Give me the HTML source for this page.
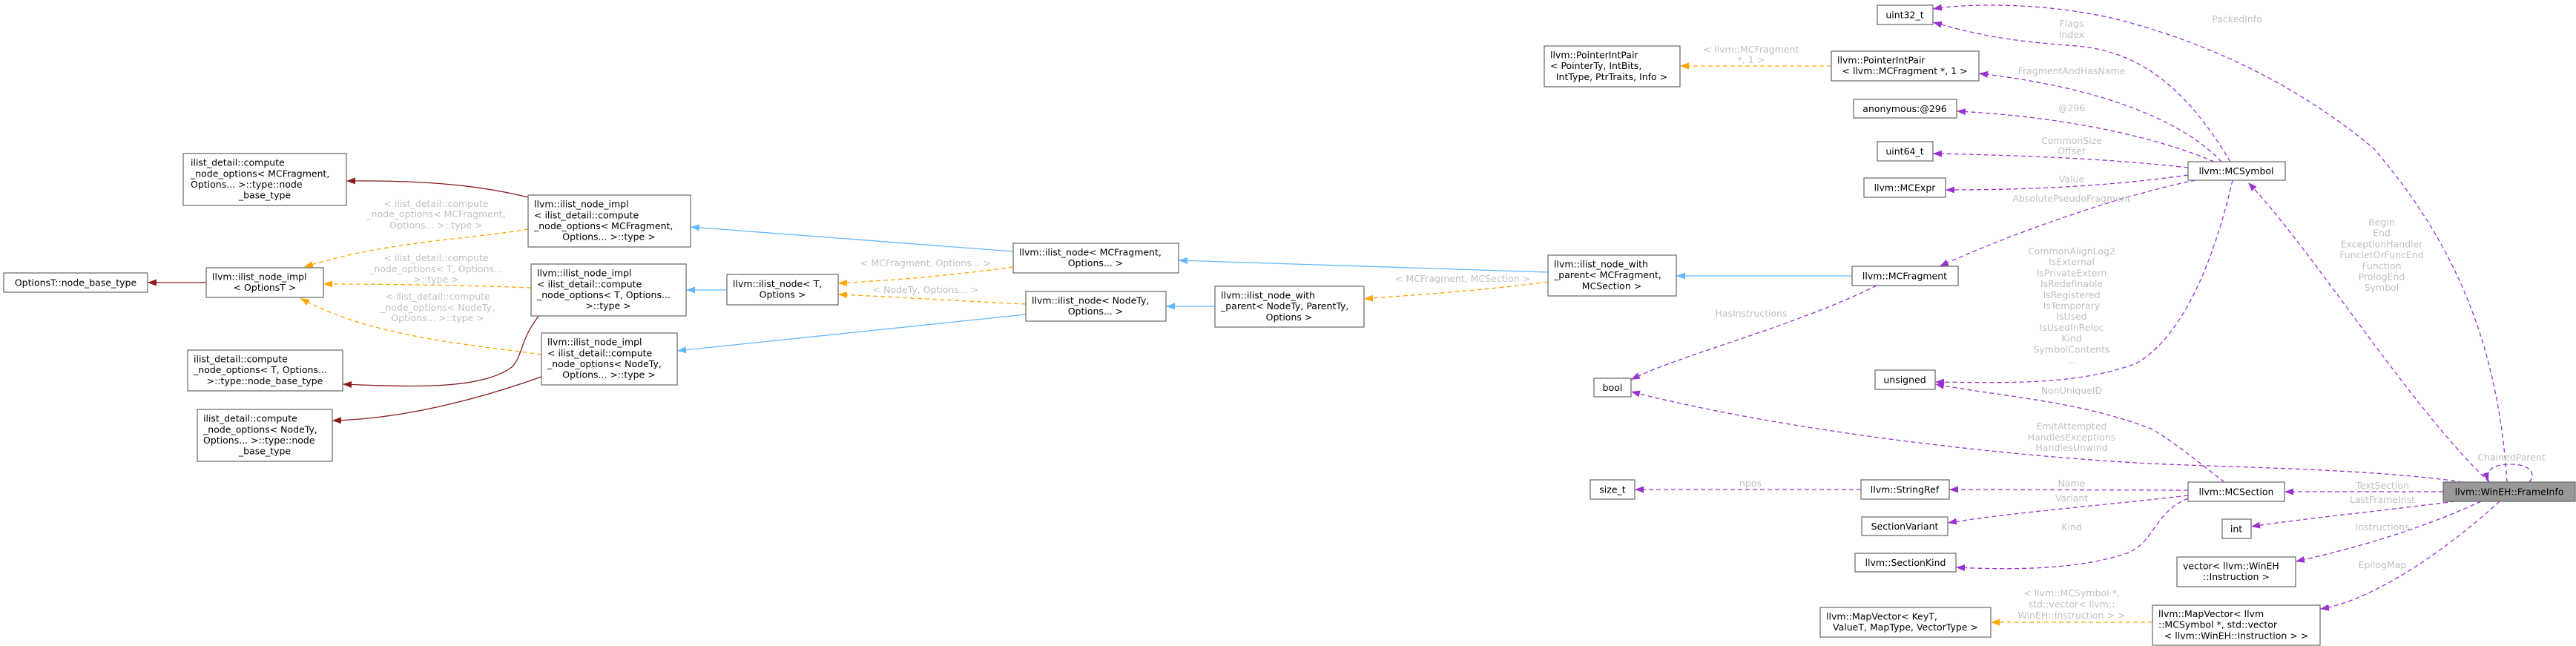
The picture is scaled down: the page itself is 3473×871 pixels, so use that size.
<!DOCTYPE html>
<html><head><meta charset="utf-8">
<style>
html,body{margin:0;padding:0;background:#fff;}
svg{display:block;font-family:"DejaVu Sans","Liberation Sans",sans-serif;}
.n{fill:#fff;stroke:#666;stroke-width:1.2;}
.t{font-size:12.5px;fill:#000;}
.l{font-size:12.5px;fill:#c0c0c0;text-anchor:middle;}
.c{text-anchor:middle;}
.p{fill:none;stroke:#9a32cd;stroke-width:1.3;stroke-dasharray:6,4;}
.o{fill:none;stroke:#ffa500;stroke-width:1.3;stroke-dasharray:6,4;}
.b{fill:none;stroke:#63b8ff;stroke-width:1.3;}
.r{fill:none;stroke:#8b1a1a;stroke-width:1.3;}
</style></head><body>
<svg width="3473" height="871" viewBox="0 0 3473 871" xmlns="http://www.w3.org/2000/svg">
<defs>
<marker id="mp" markerUnits="userSpaceOnUse" markerWidth="12" markerHeight="9" refX="12" refY="4.5" orient="auto"><path d="M0,0 L12,4.5 L0,9 z" fill="#9a32cd"/></marker>
<marker id="mo" markerUnits="userSpaceOnUse" markerWidth="12" markerHeight="9" refX="12" refY="4.5" orient="auto"><path d="M0,0 L12,4.5 L0,9 z" fill="#ffa500"/></marker>
<marker id="mb" markerUnits="userSpaceOnUse" markerWidth="12" markerHeight="9" refX="12" refY="4.5" orient="auto"><path d="M0,0 L12,4.5 L0,9 z" fill="#63b8ff"/></marker>
<marker id="mr" markerUnits="userSpaceOnUse" markerWidth="12" markerHeight="9" refX="12" refY="4.5" orient="auto"><path d="M0,0 L12,4.5 L0,9 z" fill="#8b1a1a"/></marker>
</defs>

<!-- edges: dark red -->
<path class="r" marker-end="url(#mr)" d="M278,381 L199,381"/>
<path class="r" marker-end="url(#mr)" d="M712,266 C640,248 560,243 467,244"/>
<path class="r" marker-end="url(#mr)" d="M727,425 C700,460 705,480 690,495 C650,525 560,522 462,518"/>
<path class="r" marker-end="url(#mr)" d="M730,508 C640,540 540,565 448,567"/>

<!-- orange -->
<path class="o" marker-end="url(#mo)" d="M712,309 C640,322 520,325 410,360"/>
<path class="o" marker-end="url(#mo)" d="M716,388 C640,385 540,383 436,383"/>
<path class="o" marker-end="url(#mo)" d="M730,478 C640,465 500,455 405,402"/>
<path class="o" marker-end="url(#mo)" d="M1366,360 C1280,372 1200,378 1130,382"/>
<path class="o" marker-end="url(#mo)" d="M1383,410 C1280,405 1200,400 1130,397"/>
<path class="o" marker-end="url(#mo)" d="M2087,380 C2000,392 1900,398 1839,403"/>
<path class="o" marker-end="url(#mo)" d="M2469,89 L2265,89"/>
<path class="o" marker-end="url(#mo)" d="M2902,839 L2684,839"/>

<!-- blue -->
<path class="b" marker-end="url(#mb)" d="M1366,339 L931,306"/>
<path class="b" marker-end="url(#mb)" d="M980,391 L925,391"/>
<path class="b" marker-end="url(#mb)" d="M1383,424 L913,473"/>
<path class="b" marker-end="url(#mb)" d="M1638,413 L1572,413"/>
<path class="b" marker-end="url(#mb)" d="M2087,367 L1589,351"/>
<path class="b" marker-end="url(#mb)" d="M2497,372 L2260,372"/>

<!-- purple -->
<path class="p" marker-end="url(#mp)" d="M3007,218 C2960,140 2900,70 2800,62 C2700,55 2660,45 2606,30"/>
<path class="p" marker-end="url(#mp)" d="M2995,218 C2950,170 2850,120 2668,99"/>
<path class="p" marker-end="url(#mp)" d="M2985,218 C2920,190 2800,158 2638,150"/>
<path class="p" marker-end="url(#mp)" d="M2950,226 C2850,215 2750,210 2606,207"/>
<path class="p" marker-end="url(#mp)" d="M2950,236 C2850,250 2750,256 2623,256"/>
<path class="p" marker-end="url(#mp)" d="M2960,243 C2850,265 2700,320 2615,359"/>
<path class="p" marker-end="url(#mp)" d="M3010,243 C2990,330 2950,450 2880,490 C2800,520 2700,516 2609,515"/>
<path class="p" marker-end="url(#mp)" d="M2530,385 C2420,440 2260,480 2199,512"/>
<path class="p" marker-end="url(#mp)" d="M2999,650 C2960,620 2930,595 2900,578 C2800,540 2700,535 2609,518"/>
<path class="p" marker-end="url(#mp)" d="M2950,661 L2628,660"/>
<path class="p" marker-end="url(#mp)" d="M2950,668 C2850,680 2720,690 2626,705"/>
<path class="p" marker-end="url(#mp)" d="M2950,672 C2905,690 2905,730 2870,745 C2800,770 2700,768 2637,765"/>
<path class="p" marker-end="url(#mp)" d="M2509,660 L2204,660"/>
<path class="p" marker-end="url(#mp)" d="M3380,650 C3370,500 3330,350 3200,200 C3080,100 2950,50 2850,25 C2750,2 2650,5 2606,12"/>
<path class="p" marker-end="url(#mp)" d="M3356,650 C3250,550 3120,340 3031,246"/>
<path class="p" marker-end="url(#mp)" d="M3320,650 C3200,632 3000,630 2900,625 C2700,615 2400,580 2199,528"/>
<path class="p" marker-end="url(#mp)" d="M3294,663 L3080,663"/>
<path class="p" marker-end="url(#mp)" d="M3310,676 C3200,690 3100,700 3035,710"/>
<path class="p" marker-end="url(#mp)" d="M3345,676 C3250,720 3150,745 3095,757"/>
<path class="p" marker-end="url(#mp)" d="M3370,676 C3300,740 3200,810 3128,821"/>
<path class="p" marker-end="url(#mp)" d="M3410,650 C3420,638 3410,626 3386,626 C3360,626 3350,634 3355,649"/>

<!-- edge labels -->
<text class="l" x="588" y="279">&lt; ilist_detail::compute</text>
<text class="l" x="588" y="293">_node_options&lt; MCFragment,</text>
<text class="l" x="588" y="308">Options... &gt;::type &gt;</text>
<text class="l" x="588" y="352">&lt; ilist_detail::compute</text>
<text class="l" x="588" y="367">_node_options&lt; T, Options...</text>
<text class="l" x="588" y="381">&gt;::type &gt;</text>
<text class="l" x="590" y="404">&lt; ilist_detail::compute</text>
<text class="l" x="590" y="419">_node_options&lt; NodeTy,</text>
<text class="l" x="590" y="433">Options... &gt;::type &gt;</text>
<text class="l" x="1248" y="359">&lt; MCFragment, Options... &gt;</text>
<text class="l" x="1248" y="395">&lt; NodeTy, Options... &gt;</text>
<text class="l" x="1972" y="380">&lt; MCFragment, MCSection &gt;</text>
<text class="l" x="2361" y="71">&lt; llvm::MCFragment</text>
<text class="l" x="2361" y="85">*, 1 &gt;</text>
<text class="l" x="2793" y="36">Flags</text>
<text class="l" x="2793" y="51">Index</text>
<text class="l" x="2793" y="100">FragmentAndHasName</text>
<text class="l" x="2793" y="150">@296</text>
<text class="l" x="2793" y="194">CommonSize</text>
<text class="l" x="2793" y="208">Offset</text>
<text class="l" x="2793" y="246">Value</text>
<text class="l" x="2793" y="272">AbsolutePseudoFragment</text>
<text class="l" x="2793" y="343">CommonAlignLog2</text>
<text class="l" x="2793" y="357.7">IsExternal</text>
<text class="l" x="2793" y="372.4">IsPrivateExtern</text>
<text class="l" x="2793" y="387.1">IsRedefinable</text>
<text class="l" x="2793" y="401.8">IsRegistered</text>
<text class="l" x="2793" y="416.5">IsTemporary</text>
<text class="l" x="2793" y="431.2">IsUsed</text>
<text class="l" x="2793" y="445.9">IsUsedInReloc</text>
<text class="l" x="2793" y="460.6">Kind</text>
<text class="l" x="2793" y="475.3">SymbolContents</text>
<text class="l" x="2793" y="490">...</text>
<text class="l" x="2361" y="427">HasInstructions</text>
<text class="l" x="2793" y="531">NonUniqueID</text>
<text class="l" x="2793" y="579">EmitAttempted</text>
<text class="l" x="2793" y="594">HandlesExceptions</text>
<text class="l" x="2793" y="608">HandlesUnwind</text>
<text class="l" x="2360" y="656">npos</text>
<text class="l" x="2793" y="656">Name</text>
<text class="l" x="2793" y="676">Variant</text>
<text class="l" x="2793" y="715">Kind</text>
<text class="l" x="2793" y="804">&lt; llvm::MCSymbol *,</text>
<text class="l" x="2793" y="819">std::vector&lt; llvm::</text>
<text class="l" x="2793" y="834">WinEH::Instruction &gt; &gt;</text>
<text class="l" x="3016" y="30">PackedInfo</text>
<text class="l" x="3211" y="304">Begin</text>
<text class="l" x="3211" y="318.7">End</text>
<text class="l" x="3211" y="333.4">ExceptionHandler</text>
<text class="l" x="3211" y="348.1">FuncletOrFuncEnd</text>
<text class="l" x="3211" y="362.8">Function</text>
<text class="l" x="3211" y="377.5">PrologEnd</text>
<text class="l" x="3211" y="392.2">Symbol</text>
<text class="l" x="3386" y="621">ChainedParent</text>
<text class="l" x="3212" y="659">TextSection</text>
<text class="l" x="3212" y="678">LastFrameInst</text>
<text class="l" x="3212" y="715">Instructions</text>
<text class="l" x="3212" y="766">EpilogMap</text>

<!-- nodes -->
<rect class="n" x="5" y="368" width="194" height="26"/>
<text class="t c" x="102" y="385.5">OptionsT::node_base_type</text>

<rect class="n" x="278" y="361" width="158" height="40"/>
<text class="t" x="286" y="377.3">llvm::ilist_node_impl</text>
<text class="t c" x="357" y="392">&lt; OptionsT &gt;</text>

<rect class="n" x="247" y="207" width="220" height="70"/>
<text class="t" x="257" y="223.6">ilist_detail::compute</text>
<text class="t" x="257" y="238.3">_node_options&lt; MCFragment,</text>
<text class="t" x="257" y="253">Options... &gt;::type::node</text>
<text class="t c" x="357" y="267.7">_base_type</text>

<rect class="n" x="253" y="472" width="209" height="55"/>
<text class="t" x="261" y="488.5">ilist_detail::compute</text>
<text class="t" x="261" y="503.2">_node_options&lt; T, Options...</text>
<text class="t c" x="357" y="517.9">&gt;::type::node_base_type</text>

<rect class="n" x="266" y="552" width="182" height="70"/>
<text class="t" x="274" y="568.6">ilist_detail::compute</text>
<text class="t" x="274" y="583.3">_node_options&lt; NodeTy,</text>
<text class="t" x="274" y="598">Options... &gt;::type::node</text>
<text class="t c" x="357" y="612.7">_base_type</text>

<rect class="n" x="712" y="263" width="219" height="70"/>
<text class="t" x="720" y="279.6">llvm::ilist_node_impl</text>
<text class="t" x="720" y="294.3">&lt; ilist_detail::compute</text>
<text class="t" x="720" y="309">_node_options&lt; MCFragment,</text>
<text class="t c" x="821" y="323.7">Options... &gt;::type &gt;</text>

<rect class="n" x="716" y="356" width="209" height="70"/>
<text class="t" x="724" y="372.6">llvm::ilist_node_impl</text>
<text class="t" x="724" y="387.3">&lt; ilist_detail::compute</text>
<text class="t" x="724" y="402">_node_options&lt; T, Options...</text>
<text class="t c" x="820" y="416.7">&gt;::type &gt;</text>

<rect class="n" x="730" y="449" width="183" height="70"/>
<text class="t" x="738" y="465.6">llvm::ilist_node_impl</text>
<text class="t" x="738" y="480.3">&lt; ilist_detail::compute</text>
<text class="t" x="738" y="495">_node_options&lt; NodeTy,</text>
<text class="t c" x="821" y="509.7">Options... &gt;::type &gt;</text>

<rect class="n" x="980" y="370" width="150" height="41"/>
<text class="t" x="988" y="386.8">llvm::ilist_node&lt; T,</text>
<text class="t c" x="1055" y="401.5">Options &gt;</text>

<rect class="n" x="1366" y="328" width="223" height="40"/>
<text class="t" x="1374" y="344.3">llvm::ilist_node&lt; MCFragment,</text>
<text class="t c" x="1477" y="359">Options... &gt;</text>

<rect class="n" x="1383" y="393" width="189" height="40"/>
<text class="t" x="1391" y="409.3">llvm::ilist_node&lt; NodeTy,</text>
<text class="t c" x="1477" y="424">Options... &gt;</text>

<rect class="n" x="1638" y="386" width="201" height="55"/>
<text class="t" x="1646" y="402.5">llvm::ilist_node_with</text>
<text class="t" x="1646" y="417.2">_parent&lt; NodeTy, ParentTy,</text>
<text class="t c" x="1738" y="431.9">Options &gt;</text>

<rect class="n" x="2087" y="344" width="173" height="55"/>
<text class="t" x="2095" y="360.5">llvm::ilist_node_with</text>
<text class="t" x="2095" y="375.2">_parent&lt; MCFragment,</text>
<text class="t c" x="2173" y="389.9">MCSection &gt;</text>

<rect class="n" x="2497" y="359" width="143" height="26"/>
<text class="t c" x="2568" y="376.5">llvm::MCFragment</text>

<rect class="n" x="2531" y="7" width="75" height="26"/>
<text class="t c" x="2568" y="24.5">uint32_t</text>

<rect class="n" x="2082" y="62" width="183" height="55"/>
<text class="t" x="2090" y="78.5">llvm::PointerIntPair</text>
<text class="t" x="2090" y="93.2">&lt; PointerTy, IntBits,</text>
<text class="t c" x="2173" y="107.9">IntType, PtrTraits, Info &gt;</text>

<rect class="n" x="2469" y="69" width="199" height="40"/>
<text class="t" x="2477" y="85.3">llvm::PointerIntPair</text>
<text class="t c" x="2568" y="100">&lt; llvm::MCFragment *, 1 &gt;</text>

<rect class="n" x="2499" y="134" width="139" height="25"/>
<text class="t c" x="2568" y="151">anonymous:@296</text>

<rect class="n" x="2531" y="191" width="75" height="26"/>
<text class="t c" x="2568" y="208.5">uint64_t</text>

<rect class="n" x="2513" y="240" width="110" height="26"/>
<text class="t c" x="2568" y="257.5">llvm::MCExpr</text>

<rect class="n" x="2950" y="218" width="131" height="25"/>
<text class="t c" x="3015" y="235">llvm::MCSymbol</text>

<rect class="n" x="2149" y="510" width="50" height="25"/>
<text class="t c" x="2174" y="527">bool</text>

<rect class="n" x="2528" y="499" width="81" height="26"/>
<text class="t c" x="2568" y="516.5">unsigned</text>

<rect class="n" x="2144" y="647" width="60" height="26"/>
<text class="t c" x="2174" y="664.5">size_t</text>

<rect class="n" x="2509" y="647" width="119" height="26"/>
<text class="t c" x="2568" y="664.5">llvm::StringRef</text>

<rect class="n" x="2510" y="697" width="116" height="25"/>
<text class="t c" x="2568" y="714">SectionVariant</text>

<rect class="n" x="2501" y="746" width="136" height="25"/>
<text class="t c" x="2569" y="763">llvm::SectionKind</text>

<rect class="n" x="2454" y="819" width="230" height="40"/>
<text class="t" x="2462" y="835.3">llvm::MapVector&lt; KeyT,</text>
<text class="t c" x="2569" y="850">ValueT, MapType, VectorType &gt;</text>

<rect class="n" x="2950" y="650" width="130" height="26"/>
<text class="t c" x="3015" y="667.5">llvm::MCSection</text>

<rect x="3294" y="650" width="178" height="26" fill="#999" stroke="#666" stroke-width="1.2"/>
<text class="t c" x="3383" y="667.5">llvm::WinEH::FrameInfo</text>

<rect class="n" x="2996" y="700" width="39" height="26"/>
<text class="t c" x="3015" y="717.5">int</text>

<rect class="n" x="2935" y="751" width="160" height="40"/>
<text class="t" x="2943" y="767.3">vector&lt; llvm::WinEH</text>
<text class="t c" x="3015" y="782">::Instruction &gt;</text>

<rect class="n" x="2902" y="816" width="226" height="54"/>
<text class="t" x="2910" y="832">llvm::MapVector&lt; llvm</text>
<text class="t" x="2910" y="846.7">::MCSymbol *, std::vector</text>
<text class="t c" x="3015" y="861.4">&lt; llvm::WinEH::Instruction &gt; &gt;</text>
</svg>
</body></html>
